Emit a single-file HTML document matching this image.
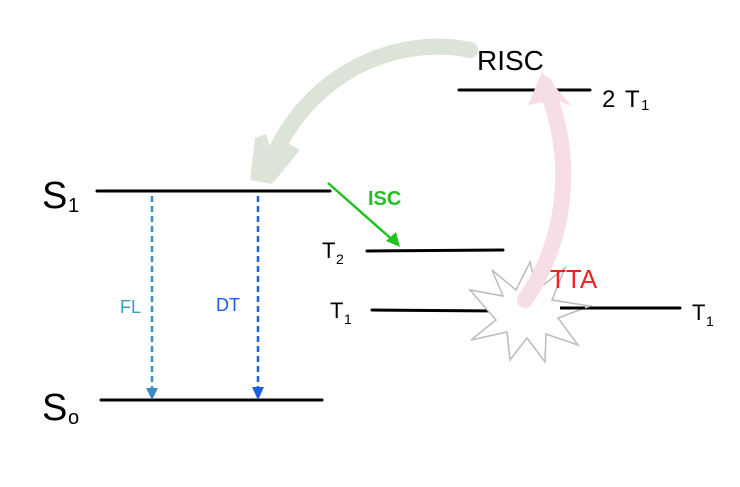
<!DOCTYPE html>
<html><head><meta charset="utf-8"><style>
html,body{margin:0;padding:0;background:#fff;}
svg{display:block;}
text{font-family:"Liberation Sans",sans-serif;}
</style></head><body>
<svg width="740" height="487" viewBox="0 0 740 487" xmlns="http://www.w3.org/2000/svg">
<rect width="740" height="487" fill="#fff"/>
<!-- green RISC arrow -->
<path d="M470 50 C400 35 310 70 272 160" fill="none" stroke="#dbe4d6" stroke-width="16" stroke-linecap="round"/>
<polygon points="250,180 272,184 300,150 282,140 274,160 266,134 255,138" fill="#dbe4d6"/>
<!-- levels -->
<g stroke="#000" stroke-width="3" stroke-linecap="round">
<line x1="97" y1="191" x2="330" y2="191"/>
<line x1="101" y1="400" x2="322" y2="400"/>
<line x1="367" y1="251" x2="503" y2="250"/>
<line x1="372" y1="310" x2="500" y2="311"/>
<line x1="560" y1="308" x2="680" y2="308"/>
<line x1="459" y1="90" x2="590" y2="90"/>
</g>
<!-- star -->
<polygon points="530,262 537,290 565,268 552,300 590,306 558,318 578,345 546,334 545,362 527,338 510,360 507,332 471,340 496,320 470,290 503,296 492,270 516,290" fill="#fff" stroke="#bbb" stroke-width="1.5"/>
<line x1="560" y1="308" x2="585" y2="308" stroke="#000" stroke-width="3"/>
<!-- pink TTA arrow -->
<path d="M525 300 C560 250 580 170 545 85" fill="none" stroke="#f6dfe4" stroke-width="16" stroke-linecap="round"/>
<polygon points="528,105 542,72 572,106 555,100" fill="#f6dfe4"/>
<!-- dashed arrows -->
<line x1="152" y1="196" x2="152" y2="390" stroke="#3a8cc4" stroke-width="2.5" stroke-dasharray="6,4"/>
<polygon points="146,388 158,388 152,400" fill="#3a8cc4"/>
<line x1="258" y1="196" x2="258" y2="390" stroke="#1a5fe6" stroke-width="2.5" stroke-dasharray="6,4"/>
<polygon points="252,387 264,387 258,400" fill="#1a5fe6"/>
<!-- ISC arrow -->
<line x1="328" y1="183" x2="396" y2="243" stroke="#22c022" stroke-width="2.5"/>
<polygon points="400,247 386,241 396,232" fill="#22c022"/>
<!-- labels -->
<text x="42" y="208" font-size="38">S</text><text x="68" y="212" font-size="20">1</text>
<text x="42" y="420" font-size="38">S</text><text x="68" y="424" font-size="20">o</text>
<text x="120" y="313" font-size="18" fill="#3a9cc8">FL</text>
<text x="216" y="311" font-size="18" fill="#1a5fe6">DT</text>
<text x="368" y="205" font-size="20" font-weight="bold" fill="#22c022">ISC</text>
<text x="322" y="258" font-size="22">T</text><text x="336" y="264" font-size="14">2</text>
<text x="330" y="318" font-size="22">T</text><text x="344" y="324" font-size="14">1</text>
<text x="550" y="288" font-size="26" fill="#ee2222">TTA</text>
<text x="692" y="320" font-size="22">T</text><text x="706" y="326" font-size="14">1</text>
<text x="477" y="70" font-size="28">RISC</text>
<text x="602" y="107" font-size="24">2</text><text x="625" y="107" font-size="24">T</text><text x="641" y="110" font-size="15">1</text>
</svg>
</body></html>
